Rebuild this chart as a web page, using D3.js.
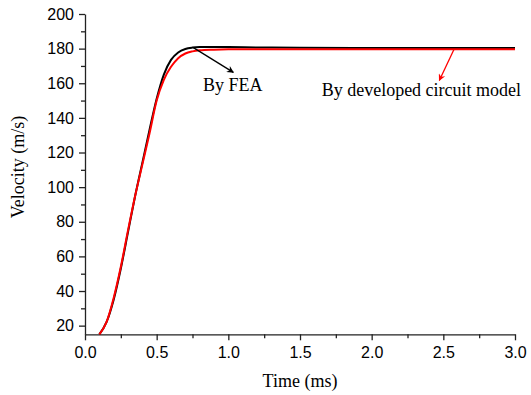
<!doctype html>
<html lang="en">
<head>
<meta charset="utf-8">
<script src="https://d3js.org/d3.v7.min.js"></script>
<title>Velocity vs Time</title>
<style>
  body { margin: 0; background: #fff; }
  svg { display: block; }
  .tick text { font-family: "Liberation Sans", Arial, sans-serif; font-size: 16px; fill: #000; }
  .axis path, .axis line { stroke: #222; stroke-width: 1.3px; }
  .title { font-family: "Liberation Serif", "Times New Roman", serif; font-size: 18px; fill: #000; }
</style>
</head>
<body>
<div id="chart"></div>
<script>
// time in ms
const feaTime = [0.1, 0.15, 0.2, 0.25, 0.3, 0.35, 0.4, 0.45, 0.5, 0.55, 0.6, 0.65, 0.7, 0.75, 0.8, 0.9, 1.0, 1.2, 1.5, 2.0, 2.5, 3.0];
const feaVel  = [15, 22, 35, 53, 74, 95, 114, 133, 151, 165, 173.5, 177.8, 179.8, 180.6, 180.9, 181.0, 180.9, 180.7, 180.5, 180.4, 180.3, 180.3];

const circTime = [0.1, 0.15, 0.2, 0.25, 0.3, 0.35, 0.4, 0.45, 0.5, 0.55, 0.6, 0.65, 0.7, 0.75, 0.8, 0.9, 1.0, 1.5, 2.0, 2.5, 3.0];
const circVel  = [15, 22, 36, 54, 75, 95, 113, 131, 150, 162, 169.5, 174.5, 177.2, 178.4, 179.0, 179.4, 179.6, 179.7, 179.7, 179.7, 179.7];

const xTicks = [0.0, 0.5, 1.0, 1.5, 2.0, 2.5, 3.0];
const yTicks = [20, 40, 60, 80, 100, 120, 140, 160, 180, 200];

// annotations in data units: [t, v]
const feaArrow  = [[0.756, 180.6], [1.035, 166.3]];
const circArrow = [[2.574, 179.5], [2.472, 161.6]];
const feaLabel  = [0.823, 155.4, "By FEA"];
const circLabel = [1.651, 152.8, "By developed circuit model"];

const W = 531, H = 395;
const margin = {left: 85, top: 14, right: 16, bottom: 60.7};
const w = W - margin.left - margin.right;
const h = H - margin.top - margin.bottom;

const svg = d3.select('#chart').append('svg')
  .attr('width', W)
  .attr('height', H);

const defs = svg.append('defs');
[['ahBlack', '#000'], ['ahRed', '#f00']].forEach(([id, c]) => {
  defs.append('marker')
    .attr('id', id)
    .attr('viewBox', '0 0 10 10')
    .attr('refX', 9).attr('refY', 5)
    .attr('markerWidth', 9).attr('markerHeight', 7)
    .attr('markerUnits', 'userSpaceOnUse')
    .attr('orient', 'auto')
    .append('path')
    .attr('d', 'M0,0 L10,5 L0,10 L3,5 Z')
    .attr('fill', c);
});

const g = svg.append('g').attr('transform', `translate(${margin.left},${margin.top})`);

const x = d3.scaleLinear().domain([0, 3]).range([0, w]);
const y = d3.scaleLinear().domain([15, 200]).range([h, 0]);

// minor ticks
g.append('g').attr('class', 'axis')
  .attr('transform', `translate(0,${h})`)
  .call(d3.axisBottom(x).tickValues(d3.range(0.25, 3, 0.5)).tickSize(4).tickFormat(''))
  .select('.domain').remove();
g.append('g').attr('class', 'axis')
  .call(d3.axisLeft(y).tickValues(d3.range(30, 200, 20)).tickSize(4).tickFormat(''))
  .select('.domain').remove();

g.append('g').attr('class', 'axis')
  .attr('transform', `translate(0,${h})`)
  .call(d3.axisBottom(x).tickValues(xTicks).tickSize(6).tickPadding(6).tickSizeOuter(0).tickFormat(d3.format('.1f')));

g.append('g').attr('class', 'axis')
  .call(d3.axisLeft(y).tickValues(yTicks).tickSize(6).tickPadding(5).tickSizeOuter(0));

const line = d3.line().x(d => x(d[0])).y(d => y(d[1])).curve(d3.curveMonotoneX);

g.append('path')
  .datum(feaTime.map((t, i) => [t, feaVel[i]]))
  .attr('d', line)
  .attr('fill', 'none')
  .attr('stroke', '#000')
  .attr('stroke-width', 2);

g.append('path')
  .datum(circTime.map((t, i) => [t, circVel[i]]))
  .attr('d', line)
  .attr('fill', 'none')
  .attr('stroke', '#f00')
  .attr('stroke-width', 2);

// arrows
g.append('line')
  .attr('x1', x(feaArrow[0][0])).attr('y1', y(feaArrow[0][1]))
  .attr('x2', x(feaArrow[1][0])).attr('y2', y(feaArrow[1][1]))
  .attr('stroke', '#000').attr('stroke-width', 1.3)
  .attr('marker-end', 'url(#ahBlack)');
g.append('line')
  .attr('x1', x(circArrow[0][0])).attr('y1', y(circArrow[0][1]))
  .attr('x2', x(circArrow[1][0])).attr('y2', y(circArrow[1][1]))
  .attr('stroke', '#f00').attr('stroke-width', 1.3)
  .attr('marker-end', 'url(#ahRed)');

[feaLabel, circLabel].forEach(l => {
  g.append('text').attr('class', 'title')
    .attr('x', x(l[0])).attr('y', y(l[1]))
    .text(l[2]);
});

// axis titles
svg.append('text').attr('class', 'title')
  .attr('text-anchor', 'middle')
  .attr('x', 300).attr('y', 387)
  .text('Time (ms)');

svg.append('text').attr('class', 'title')
  .attr('text-anchor', 'middle')
  .attr('transform', 'translate(24,167) rotate(-90)')
  .text('Velocity (m/s)');
</script>
</body>
</html>
